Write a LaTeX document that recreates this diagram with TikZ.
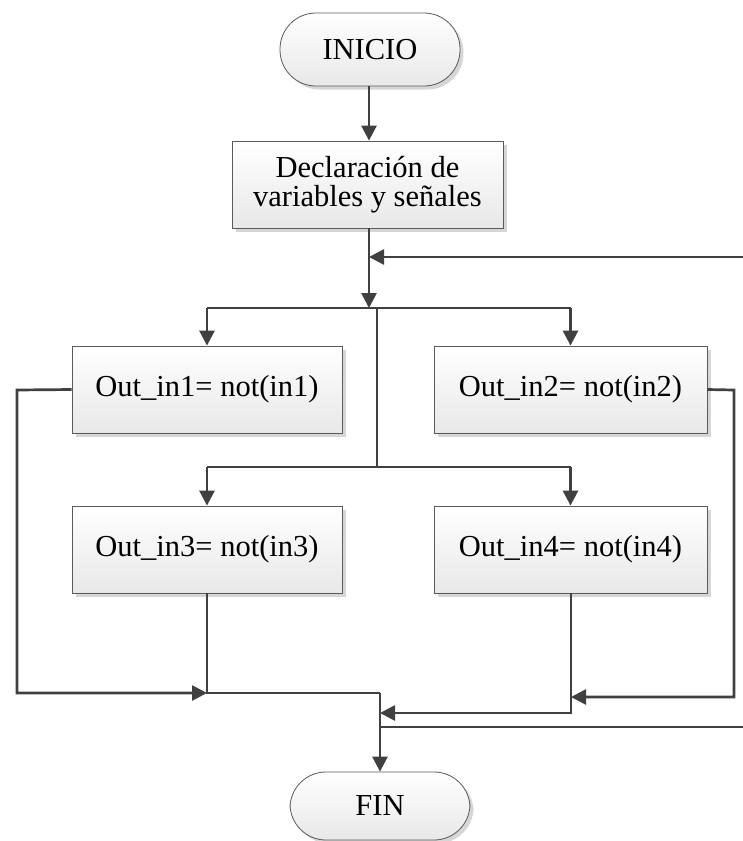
\documentclass[tikz,border=0pt]{standalone}
\usepackage{fontspec}
\setmainfont{Liberation Serif}
\usetikzlibrary{arrows.meta,shadows}
\definecolor{linegray}{HTML}{404040}
\definecolor{edgegray}{HTML}{5A5A5A}
\definecolor{shadowgray}{HTML}{D6D6D6}
\begin{document}
\begin{tikzpicture}[x=1pt,y=-1pt,
  base/.style={draw=edgegray, line width=0.8pt, top color=white, bottom color=black!9,
    drop shadow={shadow xshift=3.5pt, shadow yshift=-3.5pt, fill=shadowgray, opacity=1},
    font=\fontsize{30.5}{29}\selectfont, align=center, inner sep=0pt},
  procbox/.style={base, rectangle, minimum height=87pt},
  termbox/.style={base, rectangle, rounded corners=36pt, minimum width=180pt},
  flow/.style={draw=linegray, line width=2.7pt},
  arr/.style={flow, -{Triangle[length=15pt,width=15pt]}}]
\useasboundingbox (0,0) rectangle (743,841);
% blocks
\node[termbox, minimum height=73pt] (ini) at (370,49.5) {INICIO};
\node[procbox, minimum width=271pt] (decl) at (367.5,184.5) {Declaración de\\variables y señales};
\node[procbox, minimum width=270pt] (b1) at (207,389.5) {Out\_in1= not(in1)};
\node[procbox, minimum width=273pt] (b2) at (570.5,389.5) {Out\_in2= not(in2)};
\node[procbox, minimum width=270pt] (b3) at (207,549.5) {Out\_in3= not(in3)};
\node[procbox, minimum width=273pt] (b4) at (570.5,549.5) {Out\_in4= not(in4)};
\node[termbox, minimum height=68pt] (fin) at (380,806) {FIN};
% junction points
\coordinate (split1) at (369,308);
\coordinate (trunk1) at (377,308);
\coordinate (split2) at (377,467);
\coordinate (loopin) at (743,257);
\coordinate (loopjoin) at (369,257);
\coordinate (leftturn) at (17,390);
\coordinate (rightturn) at (734,390);
\coordinate (rightjoin) at (571,697);
\coordinate (merge) at (380,693);
\coordinate (merge4) at (380,713);
\coordinate (loopout) at (743,727);
\coordinate (loopoutjoin) at (380,727);
\coordinate (leftjoin) at (b3.south |- merge);
% main path
\draw[arr] (ini.south -| loopjoin) -- (decl.north -| loopjoin);
\draw[arr] (decl.south -| loopjoin) -- (split1);
\draw[arr] (loopin) -- (loopjoin);
% first split
\draw[flow] (split1 -| b1) -- (split1 -| b2);
\draw[arr] (split1 -| b1) -- (b1.north);
\draw[arr] (split1 -| b2) -- (b2.north);
\draw[flow] (trunk1) -- (split2);
% second split
\draw[flow] (split2 -| b3) -- (split2 -| b4);
\draw[arr] (split2 -| b3) -- (b3.north);
\draw[arr] (split2 -| b4) -- (b4.north);
% outputs gathered towards the end
\draw[arr] (b1.west) -- (leftturn) |- (leftjoin);
\draw[flow] (b3.south) -- (leftjoin) -- (merge);
\draw[arr] (b2.east) -- (rightturn) |- (rightjoin);
\draw[arr] (b4.south -| rightjoin) |- (merge4);
\draw[flow] (loopout) -- (loopoutjoin);
\draw[arr] (merge) -- (fin.north);
\end{tikzpicture}
\end{document}
